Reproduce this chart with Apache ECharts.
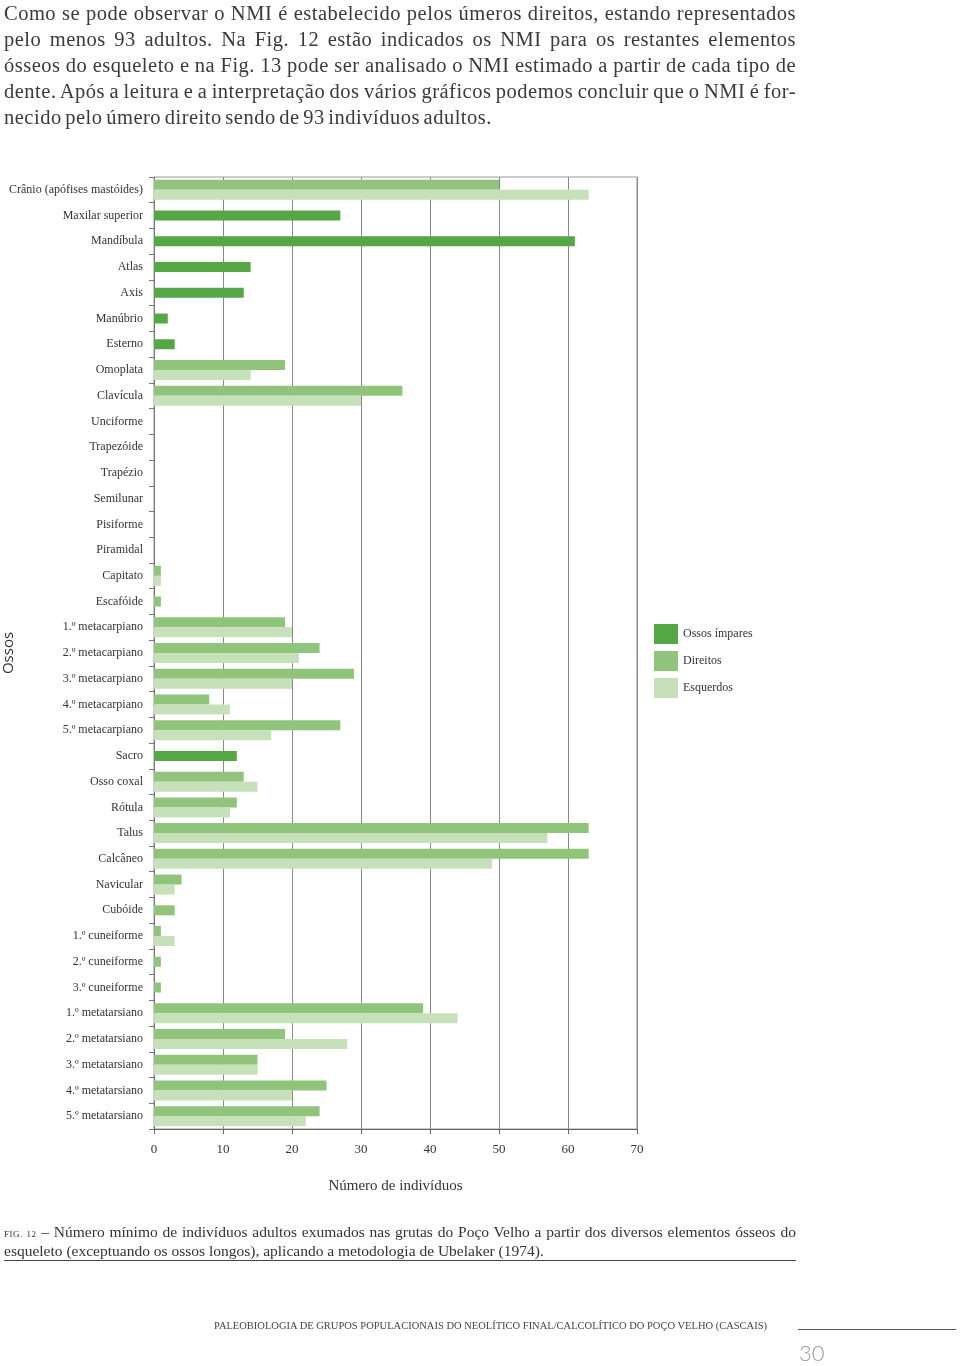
<!DOCTYPE html>
<html>
<head>
<meta charset="utf-8">
<script src="https://cdn.jsdelivr.net/npm/echarts@6/dist/echarts.min.js"></script>
<style>
  html, body { margin: 0; padding: 0; background: #fff; }
  body { width: 960px; height: 1366px; position: relative; overflow: hidden; font-family: 'Liberation Serif', serif; color: #333; }
  #chart { position: absolute; left: 0; top: 0; width: 960px; height: 1366px; }
  .para { position: absolute; left: 4px; top: 0; width: 792px; font-size: 20.5px; letter-spacing: 0.5px; word-spacing: -2px; color: #3a3a3a; }
  .para div { height: 26px; line-height: 26px; text-align: justify; text-align-last: justify; white-space: nowrap; }
  .para div.last { text-align-last: left; }
  .caption { position: absolute; left: 4px; top: 1222px; width: 792px; font-size: 15.5px; line-height: 19px; color: #333; border-bottom: 1px solid #444; text-align: justify; }
  .caption .fig { font-size: 9px; letter-spacing: 0.5px; line-height: 10px; }
  .footer { position: absolute; left: 214px; top: 1320px; font-size: 10.5px; color: #444; }
  .rule { position: absolute; left: 798px; top: 1329px; width: 158px; border-top: 1px solid #555; }
  .page { position: absolute; left: 799px; top: 1339px; font-size: 22px; color: #999; font-family: 'Lato', sans-serif; font-weight: 300; }
</style>
</head>
<body>
<div id="chart"></div>
<div class="para">
  <div>Como se pode observar o NMI é estabelecido pelos úmeros direitos, estando representados</div>
  <div>pelo menos 93 adultos. Na Fig. 12 estão indicados os NMI para os restantes elementos</div>
  <div>ósseos do esqueleto e na Fig. 13 pode ser analisado o NMI estimado a partir de cada tipo de</div>
  <div>dente. Após a leitura e a interpretação dos vários gráficos podemos concluir que o NMI é for-</div>
  <div class="last">necido pelo úmero direito sendo de 93 indivíduos adultos.</div>
</div>
<div class="caption"><span class="fig">FIG. 12</span> – Número mínimo de indivíduos adultos exumados nas grutas do Poço Velho a partir dos diversos elementos ósseos do esqueleto (exceptuando os ossos longos), aplicando a metodologia de Ubelaker (1974).</div>
<div class="footer">PALEOBIOLOGIA DE GRUPOS POPULACIONAIS DO NEOLÍTICO FINAL/CALCOLÍTICO DO POÇO VELHO (CASCAIS)</div>
<div class="rule"></div>
<div class="page">30</div>
<script>
// ossos
const categories = [
  'Crânio (apófises mastóides)', 'Maxilar superior', 'Mandíbula', 'Atlas', 'Axis',
  'Manúbrio', 'Esterno', 'Omoplata', 'Clavícula', 'Unciforme', 'Trapezóide',
  'Trapézio', 'Semilunar', 'Pisiforme', 'Piramidal', 'Capitato', 'Escafóide',
  '1.º metacarpiano', '2.º metacarpiano', '3.º metacarpiano', '4.º metacarpiano',
  '5.º metacarpiano', 'Sacro', 'Osso coxal', 'Rótula', 'Talus', 'Calcâneo',
  'Navicular', 'Cubóide', '1.º cuneiforme', '2.º cuneiforme', '3.º cuneiforme',
  '1.º metatarsiano', '2.º metatarsiano', '3.º metatarsiano', '4.º metatarsiano',
  '5.º metatarsiano'
];
const xTicks = [0, 10, 20, 30, 40, 50, 60, 70];

// ossos ímpares (barra centrada)
const impares = [null, 27, 61, 14, 13, 2, 3, null, null, null, null, null, null, null, null, null, null,
  null, null, null, null, null, 12, null, null, null, null, null, null, null, null, null,
  null, null, null, null, null];
// direitos sem par esquerdo (barra centrada)
const direitosSos = [null, null, null, null, null, null, null, null, null, null, null, null, null, null, null, null, 1,
  null, null, null, null, null, null, null, null, null, null, null, 3, null, 1, 1,
  null, null, null, null, null];
const direitos = [50, null, null, null, null, null, null, 19, 36, null, null, null, null, null, null, 1, null,
  19, 24, 29, 8, 27, null, 13, 12, 63, 63, 4, null, 1, null, null,
  39, 19, 15, 25, 24];
const esquerdos = [63, null, null, null, null, null, null, 14, 30, null, null, null, null, null, null, 1, null,
  20, 21, 20, 11, 17, null, 15, 11, 57, 49, 3, null, 3, null, null,
  44, 28, 15, 20, 22];

const cImpar = '#55a745';
const cDir = '#8fc47a';
const cEsq = '#c6e1b9';
const serif = "'Liberation Serif', serif";

const chart = echarts.init(document.getElementById('chart'));
chart.setOption({
  animation: false,
  textStyle: {fontFamily: serif},
  legend: {
    data: ['Ossos ímpares', 'Direitos', 'Esquerdos'],
    orient: 'vertical',
    left: 654, top: 624, padding: 0,
    icon: 'rect',
    itemWidth: 24, itemHeight: 20, itemGap: 7,
    textStyle: {fontFamily: serif, fontSize: 12, color: '#333'}
  },
  grid: {
    left: 154, top: 177, width: 483, height: 952,
    containLabel: false, outerBoundsMode: 'none',
    show: true, borderColor: '#999', borderWidth: 1
  },
  xAxis: {
    type: 'value', min: xTicks[0], max: xTicks[xTicks.length - 1], interval: 10,
    axisLine: {show: true, lineStyle: {color: '#666'}},
    axisTick: {show: true, length: 5, lineStyle: {color: '#666'}},
    splitLine: {show: true, lineStyle: {color: '#8a8a8a'}},
    axisLabel: {margin: 14, fontSize: 13, color: '#333', fontFamily: serif},
    name: 'Número de indivíduos',
    nameLocation: 'middle', nameGap: 50,
    nameTextStyle: {fontSize: 15, color: '#333', fontFamily: serif}
  },
  yAxis: [
    {
      type: 'category', data: categories, inverse: true,
      axisLine: {show: true, lineStyle: {color: '#777'}},
      axisTick: {show: true, length: 5, lineStyle: {color: '#777'}},
      axisLabel: {margin: 11, fontSize: 12, color: '#333', fontFamily: serif, interval: 0},
      name: 'Ossos', nameLocation: 'middle', nameGap: 138, nameRotate: 90,
      nameMoveOverlap: false,
      nameTextStyle: {fontSize: 15, color: '#333', fontFamily: "'Open Sans', sans-serif"}
    },
    {type: 'category', data: categories, inverse: true, show: false}
  ],
  series: [
    {name: 'Ossos ímpares', type: 'bar', yAxisIndex: 1, stack: 'unico', barWidth: 10,
      itemStyle: {color: cImpar}, data: impares},
    {name: 'Direitos', type: 'bar', yAxisIndex: 1, stack: 'unico', barWidth: 10,
      itemStyle: {color: cDir}, data: direitosSos},
    {name: 'Direitos', type: 'bar', yAxisIndex: 0, barWidth: 10, barGap: 0,
      itemStyle: {color: cDir}, data: direitos},
    {name: 'Esquerdos', type: 'bar', yAxisIndex: 0, barWidth: 10, barGap: 0,
      itemStyle: {color: cEsq}, data: esquerdos}
  ]
});
</script>
</body>
</html>
